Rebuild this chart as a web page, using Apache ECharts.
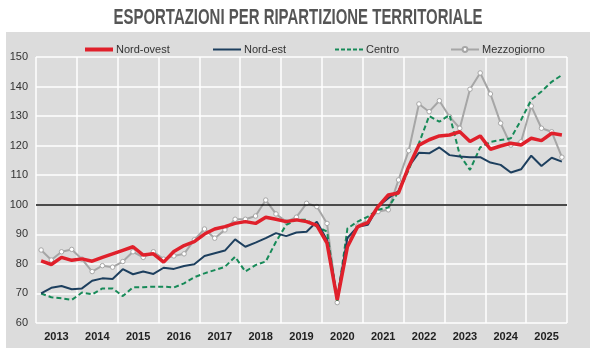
<!DOCTYPE html>
<html>
<head>
<meta charset="utf-8">
<script src="https://cdn.jsdelivr.net/npm/echarts@6/dist/echarts.min.js"></script>
<style>html,body{margin:0;padding:0;background:#fff}#c{width:600px;height:360px}</style>
</head>
<body>
<div id="c"></div>
<script>
var years = ['2013','2014','2015','2016','2017','2018','2019','2020','2021','2022','2023','2024','2025'];
var quarters = [];
years.forEach(function(y){ for (var q = 1; q <= 4; q++) quarters.push(y + 'Q' + q); });

var nordOvest = [81.0,79.8,82.2,81.2,81.7,80.9,82.2,83.4,84.6,85.8,83.0,83.4,80.6,84.2,86.2,87.5,90.1,91.8,92.6,93.7,94.3,93.7,95.8,95.1,94.3,94.9,94.3,93.0,87.0,67.8,85.8,92.6,94.0,99.4,103.3,104.0,112.9,120.2,122.0,123.3,123.6,124.7,121.4,123.3,118.8,119.9,120.8,120.2,122.5,121.7,124.2,123.6];
var nordEst = [70.0,71.9,72.5,71.4,71.7,74.3,75.1,74.9,78.2,76.5,77.4,76.6,78.7,78.3,79.3,79.9,82.7,83.6,84.5,88.3,85.8,87.2,88.7,90.4,89.4,90.6,90.9,94.3,88.1,68.5,88.8,92.6,93.2,99.4,102.2,104.6,112.9,117.6,117.4,119.4,116.8,116.3,116.1,116.1,114.3,113.5,110.9,112.0,116.6,113.1,115.9,114.6];
var centro = [70.0,68.7,68.4,67.8,70.3,69.7,71.7,71.7,69.1,72.1,72.1,72.3,72.3,72.0,73.4,75.5,76.8,77.9,79.0,82.4,77.4,79.6,80.8,87.5,93.2,94.9,94.9,92.6,90.9,67.5,92.0,94.3,96.0,98.3,99.1,104.4,111.8,120.8,130.0,128.1,130.4,116.8,111.8,119.4,121.3,121.9,122.5,128.7,135.5,138.3,141.6,143.9];
var mezzogiorno = [84.7,81.3,84.1,84.9,81.6,77.4,79.4,78.9,80.8,84.1,82.2,84.1,81.6,82.7,83.4,88.1,91.8,88.7,91.5,95.1,95.1,96.2,101.6,96.9,94.3,95.8,100.5,99.4,93.7,66.9,87.9,92.8,94.9,97.7,98.3,108.4,118.3,134.1,131.5,135.2,129.8,125.9,139.1,144.6,137.5,127.6,120.2,121.3,133.4,125.9,124.7,116.1];

var FONT = "'Liberation Sans','Arial',sans-serif";
var chart = echarts.init(document.getElementById('c'), null, {renderer:'canvas'});

var ICON_THICK = 'path://M0,0H28V4H0Z';
var ICON_THIN = 'path://M0,0H28V2H0Z';
var ICON_DASH = 'path://M0,0h4v2h-4z M6,0h4v2h-4z M12,0h4v2h-4z M18,0h4v2h-4z M24,0h4v2h-4z';

function legendAt(item, left, h) {
  return {data:[item], left:left, top:39, itemWidth:28, itemHeight:h, itemGap:0,
    textStyle:{fontFamily:FONT, fontSize:11, color:'#333', padding:[0,0,0,-2]}};
}

chart.setOption({
  animation:false,
  backgroundColor:'#ffffff',
  graphic:[
    {type:'rect', z:-10, shape:{x:6, y:32, width:584, height:316}, style:{fill:'#dcdcdc'}},
    {type:'text', x:298, y:18, scaleX:0.68, scaleY:1, z:10,
      style:{text:'ESPORTAZIONI PER RIPARTIZIONE TERRITORIALE', x:0, y:0, textAlign:'center', textVerticalAlign:'middle',
        font:"bold 22px 'Liberation Sans', Arial, sans-serif", fill:'#555555'}}
  ],
  legend:[
    legendAt({name:'Nord-ovest', icon:ICON_THICK}, 80, 4),
    legendAt({name:'Nord-est', icon:ICON_THIN}, 208, 2),
    legendAt({name:'Centro', icon:ICON_DASH}, 330, 2),
    legendAt({name:'Mezzogiorno'}, 445, 6)
  ],
  grid:{left:36, right:33, top:57, bottom:37},
  xAxis:[
    {type:'category', data:years, boundaryGap:true, position:'bottom',
      axisLine:{show:false}, axisTick:{show:false},
      axisLabel:{fontFamily:FONT, fontSize:11, fontWeight:'bold', color:'#222', margin:8},
      splitLine:{show:true, lineStyle:{color:'#ffffff', width:1.5}}},
    {type:'category', data:quarters, boundaryGap:true, show:false}
  ],
  yAxis:{type:'value', min:60, max:150, interval:10,
    axisLine:{show:false}, axisTick:{show:false},
    axisLabel:{fontFamily:FONT, fontSize:11, color:'#333', margin:8},
    splitLine:{lineStyle:{color:'#ffffff', width:1.5}}},
  series:[
    {name:'Nord-ovest', type:'line', xAxisIndex:1, data:nordOvest, symbol:'none',
      lineStyle:{color:'#e0202b', width:3.5}, itemStyle:{color:'#e0202b'}, z:5,
      markLine:{silent:true, symbol:'none', label:{show:false},
        lineStyle:{color:'#111', width:1.5, type:'solid'}, data:[{yAxis:100}]}},
    {name:'Nord-est', type:'line', xAxisIndex:1, data:nordEst, symbol:'none',
      lineStyle:{color:'#1d3f5e', width:2}, itemStyle:{color:'#1d3f5e'}, z:4},
    {name:'Centro', type:'line', xAxisIndex:1, data:centro, symbol:'none',
      lineStyle:{color:'#178a58', width:2, type:[5,3]}, itemStyle:{color:'#178a58'}, z:3},
    {name:'Mezzogiorno', type:'line', xAxisIndex:1, data:mezzogiorno, symbol:'circle', symbolSize:4.5,
      showSymbol:true,
      lineStyle:{color:'#a6a6a6', width:2}, itemStyle:{color:'#ffffff', borderColor:'#a6a6a6', borderWidth:1}, z:2}
  ]
});
</script>
</body>
</html>
